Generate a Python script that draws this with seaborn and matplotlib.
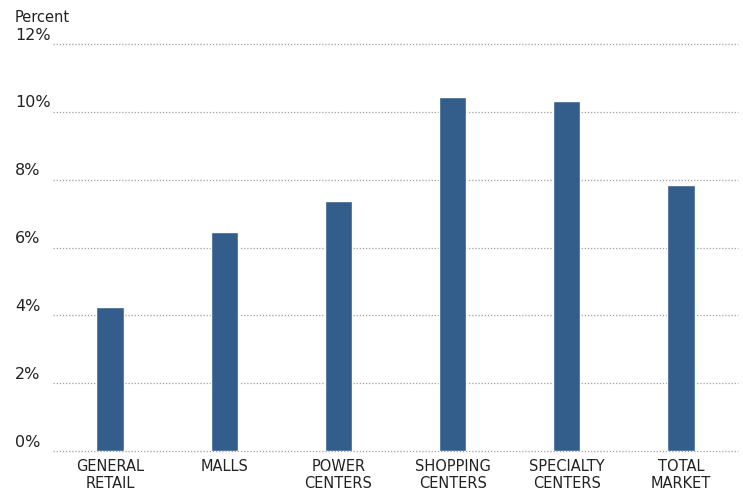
import matplotlib
matplotlib.use("Agg")
import matplotlib.pyplot as plt
import matplotlib.transforms as mtransforms
import seaborn as sns
import pandas as pd

# data
categories = ["GENERAL\nRETAIL", "MALLS", "POWER\nCENTERS", "SHOPPING\nCENTERS",
              "SPECIALTY\nCENTERS", "TOTAL\nMARKET"]
values = [4.25, 6.45, 7.37, 10.44, 10.32, 7.85]
y_ticks = [0, 2, 4, 6, 8, 10, 12]
y_labels = ["0%", "2%", "4%", "6%", "8%", "10%", "12%"]

sns.set_style("white")
plt.rcParams["font.family"] = ["Liberation Sans Narrow", "DejaVu Sans"]

df = pd.DataFrame({"category": categories, "value": values})

fig = plt.figure(figsize=(7.43, 4.91), dpi=100)
ax = fig.add_axes([53 / 743, 40 / 491, 685 / 743, 407 / 491])

sns.barplot(data=df, x="category", y="value", color="#335e8c", width=0.24,
            saturation=1, ax=ax, zorder=3)

ax.set_xlim(-0.5, 5.5)
ax.set_ylim(0, 12)
ax.set_xlabel("")
ax.set_ylabel("")
for s in ax.spines.values():
    s.set_visible(False)

# dotted grid lines
for t in y_ticks:
    ax.axhline(t, color="#a0a0a0", lw=0.9, ls=(0, (1, 1.5)), zorder=1, clip_on=False)

# y labels sit left-aligned at the figure edge, just above the grid line
ax.set_yticks([])
trans = mtransforms.blended_transform_factory(fig.transFigure, ax.transData)
for t, lab in zip(y_ticks, y_labels):
    ax.text(15 / 743, t + 0.04, lab, transform=trans, ha="left", va="bottom",
            fontsize=11.5, color="#222222")
fig.text(15 / 743, 1 - 17 / 491, "Percent", ha="left", va="center",
         fontsize=10.5, color="#222222")

ax.set_xticks(range(len(categories)))
ax.set_xticklabels(categories, fontsize=10.5, color="#222222", linespacing=1.15)
ax.tick_params(axis="x", length=0, pad=6)

fig.savefig("out.png", dpi=100)
